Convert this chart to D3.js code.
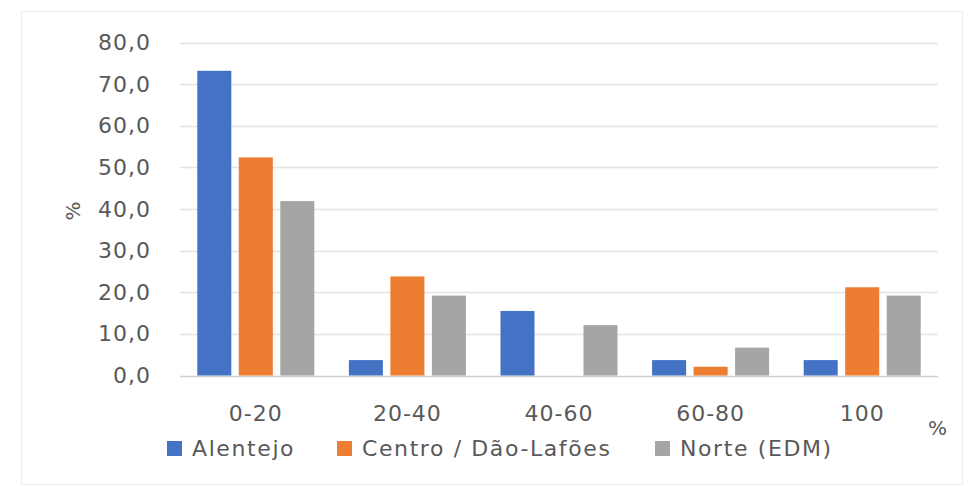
<!DOCTYPE html>
<html><head><meta charset="utf-8">
<script src="https://cdn.jsdelivr.net/npm/d3@7"></script>
<style>
html,body{margin:0;padding:0;background:#fff;}
svg text{font-family:"DejaVu Sans",sans-serif;fill:#595959;}
</style></head>
<body>
<svg id="chart" width="971" height="487"></svg>
<script>
const categories = ["0-20","20-40","40-60","60-80","100"];
const seriesNames = ["Alentejo","Centro / Dão-Lafões","Norte (EDM)"];
const alentejo = [73.2, 3.7, 15.5, 3.7, 3.7];
const centro = [52.4, 23.8, 0.0, 2.1, 21.2];
const norte = [41.9, 19.2, 12.1, 6.7, 19.2];
const yTicks = [0,10,20,30,40,50,60,70,80];
const colors = ["#4472C4","#ED7D31","#A5A5A5"];

const values = [alentejo, centro, norte];
const svg = d3.select("#chart");

svg.append("rect").attr("x",21.5).attr("y",11.5).attr("width",941).attr("height",473)
  .attr("fill","#fff").attr("stroke","#ececec");

const y = d3.scaleLinear().domain([0,80]).range([375.5,42.5]);
const x0 = d3.scaleBand().domain(categories).range([180,938]).paddingInner(0.228).paddingOuter(0.114);
const x1 = d3.scaleBand().domain(seriesNames).range([0,x0.bandwidth()]).paddingInner(0.18);

// gridlines
svg.append("g").selectAll("line").data(yTicks).join("line")
  .attr("x1",180).attr("x2",938)
  .attr("y1",d=>Math.round(y(d))+0.5).attr("y2",d=>Math.round(y(d))+0.5)
  .attr("stroke",d=>d===0?"#d0d0d0":"#e3e3e3").attr("stroke-width",1.5);

// y axis labels
const yAxis = d3.axisLeft(y).tickValues(yTicks).tickSize(0).tickPadding(0)
  .tickFormat(d=>d3.format(".1f")(d).replace(".",","));
const gy = svg.append("g").attr("transform","translate(151,0)").call(yAxis);
gy.select(".domain").remove();
gy.selectAll("text").attr("font-size",22).attr("letter-spacing","1px")
  .style("font-family","DejaVu Sans").attr("fill","#595959");

// bars
const groups = svg.append("g").selectAll("g").data(categories).join("g")
  .attr("transform",d=>`translate(${x0(d)},0)`);
groups.selectAll("rect").data((c,i)=>seriesNames.map((s,j)=>({s,j,v:values[j][i]})))
  .join("rect")
  .attr("x",d=>x1(d.s)).attr("width",x1.bandwidth())
  .attr("y",d=>y(d.v)).attr("height",d=>y(0)-y(d.v))
  .attr("fill",d=>colors[d.j]);

// x axis labels
const xAxis = d3.axisBottom(x0).tickSize(0).tickPadding(0);
const gx = svg.append("g").attr("transform","translate(0,405)").call(xAxis);
gx.select(".domain").remove();
gx.selectAll("text").attr("font-size",22).attr("letter-spacing","1px")
  .style("font-family","DejaVu Sans").attr("fill","#595959");

// axis titles
svg.append("text").attr("transform","translate(80,211) rotate(-90)")
  .attr("text-anchor","middle").attr("font-size",20).text("%");
svg.append("text").attr("x",928).attr("y",435).attr("font-size",20).text("%");

// legend
const legendX = [167, 337, 655];
const lg = svg.append("g").selectAll("g").data(seriesNames).join("g")
  .attr("transform",(d,i)=>`translate(${legendX[i]},0)`);
lg.append("rect").attr("x",0).attr("y",441).attr("width",15).attr("height",15)
  .attr("fill",(d,i)=>colors[i]);
lg.append("text").attr("x",25).attr("y",456).attr("font-size",22)
  .attr("letter-spacing","1.6px").text(d=>d);
</script>
</body></html>
